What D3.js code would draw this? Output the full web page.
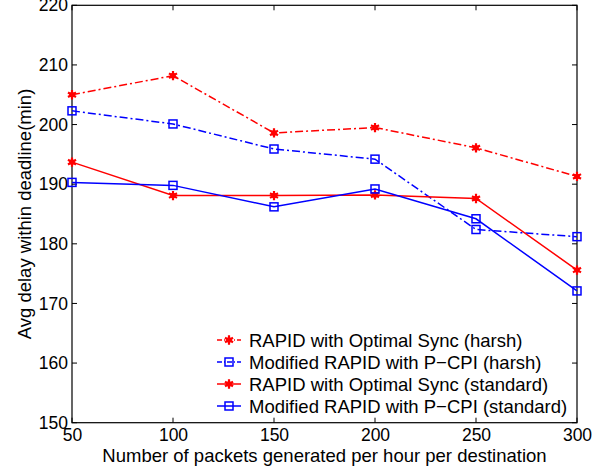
<!DOCTYPE html>
<html><head><meta charset="utf-8">
<script src="https://cdn.jsdelivr.net/npm/d3@7"></script>
<style>body{margin:0;background:#fff;} svg{display:block;font-family:"Liberation Sans",Arial,sans-serif;}</style>
</head><body>
<svg id="c" width="609" height="471"></svg>
<script>
const xValues = [50, 100, 150, 200, 250, 300];
const rapidHarsh = [205.0, 208.2, 198.6, 199.5, 196.1, 191.3];
const modHarsh = [202.3, 200.1, 195.9, 194.2, 182.4, 181.2];
const rapidStd = [193.7, 188.1, 188.1, 188.2, 187.6, 175.6];
const modStd = [190.3, 189.8, 186.2, 189.2, 184.2, 172.1];
const xTicks = [50, 100, 150, 200, 250, 300];
const yTicks = [150, 160, 170, 180, 190, 200, 210, 220];
const seriesNames = ["RAPID with Optimal Sync (harsh)", "Modified RAPID with P\u2212CPI (harsh)", "RAPID with Optimal Sync (standard)", "Modified RAPID with P\u2212CPI (standard)"];

const series = [
  {name: seriesNames[0], values: rapidHarsh, color: "#ff0000", dash: "8,3,2,3", marker: "star"},
  {name: seriesNames[1], values: modHarsh, color: "#0000ff", dash: "8,3,2,3", marker: "square"},
  {name: seriesNames[2], values: rapidStd, color: "#ff0000", dash: null, marker: "star"},
  {name: seriesNames[3], values: modStd, color: "#0000ff", dash: null, marker: "square"}
];

const svg = d3.select("#c");
const L = 72, R = 577, T = 5.3, B = 422.7;
const x = d3.scaleLinear().domain([50, 300]).range([L, R]);
const y = d3.scaleLinear().domain([150, 220]).range([B, T]);

svg.append("rect").attr("x", L).attr("y", T).attr("width", R - L).attr("height", B - T)
  .attr("fill", "none").attr("stroke", "#000").attr("stroke-width", 1.2);

const tfs = 17.5, lfs = 18.5;
const gx = svg.append("g").attr("transform", `translate(0,${B})`)
  .call(d3.axisBottom(x).tickValues(xTicks).tickSize(0).tickPadding(6).tickFormat(d3.format("d")));
gx.select(".domain").remove();
gx.selectAll("text").attr("font-size", tfs).attr("font-family", "Liberation Sans, Arial, sans-serif").attr("fill", "#000");
const gy = svg.append("g").attr("transform", `translate(${L},0)`)
  .call(d3.axisLeft(y).tickValues(yTicks).tickSize(0).tickPadding(4).tickFormat(d3.format("d")));
gy.select(".domain").remove();
gy.selectAll("text").attr("font-size", tfs).attr("font-family", "Liberation Sans, Arial, sans-serif").attr("fill", "#000");

const tl = 5;
xTicks.forEach(v => {
  svg.append("line").attr("x1", x(v)).attr("x2", x(v)).attr("y1", B).attr("y2", B - tl).attr("stroke", "#000");
  svg.append("line").attr("x1", x(v)).attr("x2", x(v)).attr("y1", T).attr("y2", T + tl).attr("stroke", "#000");
});
yTicks.forEach(v => {
  svg.append("line").attr("x1", L).attr("x2", L + tl).attr("y1", y(v)).attr("y2", y(v)).attr("stroke", "#000");
  svg.append("line").attr("x1", R).attr("x2", R - tl).attr("y1", y(v)).attr("y2", y(v)).attr("stroke", "#000");
});

svg.append("text").attr("x", (L + R) / 2).attr("y", 462).attr("text-anchor", "middle")
  .attr("font-size", lfs).text("Number of packets generated per hour per destination");
svg.append("text").attr("transform", `translate(31,${(T + B) / 2}) rotate(-90)`).attr("text-anchor", "middle")
  .attr("font-size", lfs).text("Avg delay within deadline(min)");

const line = d3.line().x((d, i) => x(xValues[i])).y(d => y(d));

function drawMarker(g, cx, cy, s) {
  if (s.marker === "square") {
    g.append("rect").attr("x", cx - 4).attr("y", cy - 4).attr("width", 8).attr("height", 8)
      .attr("fill", "none").attr("stroke", s.color).attr("stroke-width", 1.5);
  } else {
    g.append("path").attr("transform", `translate(${cx},${cy})`)
      .attr("d", d3.symbol().type(d3.symbolAsterisk).size(60)())
      .attr("fill", "none").attr("stroke", s.color).attr("stroke-width", 2.2);
    g.append("circle").attr("cx", cx).attr("cy", cy).attr("r", 2.8).attr("fill", s.color);
  }
}

series.forEach(s => {
  const g = svg.append("g");
  g.append("path").datum(s.values).attr("d", line).attr("fill", "none")
    .attr("stroke", s.color).attr("stroke-width", 1.5)
    .attr("stroke-dasharray", s.dash);
  s.values.forEach((v, i) => drawMarker(g, x(xValues[i]), y(v), s));
});

const lg = svg.append("g");
const rows = [340, 362, 384, 406];
series.forEach((s, i) => {
  const yy = rows[i];
  lg.append("line").attr("x1", 217).attr("x2", 241).attr("y1", yy).attr("y2", yy)
    .attr("stroke", s.color).attr("stroke-width", 1.5).attr("stroke-dasharray", s.dash ? "5,2,1,2" : null);
  drawMarker(lg, 229, yy, s);
  lg.append("text").attr("x", 249).attr("y", yy + 6.5).attr("font-size", lfs).text(s.name);
});
</script>
</body></html>
